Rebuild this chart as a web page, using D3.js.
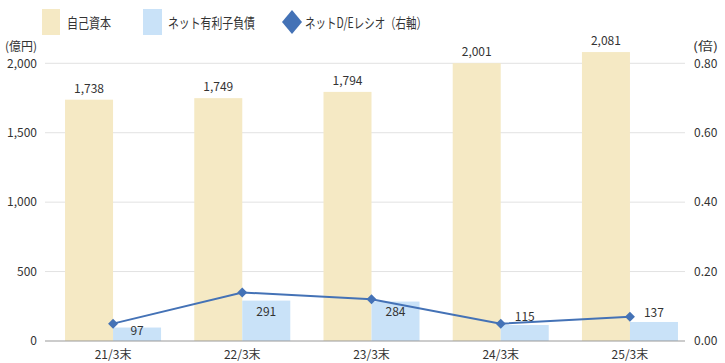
<!DOCTYPE html>
<html>
<head>
<meta charset="utf-8">
<script src="https://cdn.jsdelivr.net/npm/d3@7"></script>
<style>
  body { margin: 0; background: #fff; }
  text { font-family: "Noto Sans CJK JP", "Noto Sans", sans-serif; fill: #333; }
</style>
</head>
<body>
<div id="chart"></div>
<script>
// データ
const categories = ["21/3末", "22/3末", "23/3末", "24/3末", "25/3末"];
const equity = [1738, 1749, 1794, 2001, 2081];
const netDebt = [97, 291, 284, 115, 137];
const deRatio = [0.05, 0.14, 0.12, 0.05, 0.07];
const leftTicks = [0, 500, 1000, 1500, 2000];
const rightTicks = [0, 0.2, 0.4, 0.6, 0.8];

// ネット有利子負債ラベルの位置調整（バー上端からのずれ）
const netLabelDy = [3, 11, 10, -8, -9];

const W = 725, H = 363;
const svg = d3.select("#chart").append("svg")
    .attr("width", W)
    .attr("height", H);

const plotLeft = 45, plotRight = 685;

const x = d3.scaleBand()
    .domain(categories)
    .range([48.5, 694.5])
    .paddingInner(0.257)
    .paddingOuter(0.128);

const yL = d3.scaleLinear().domain([0, 2000]).range([341, 63.3]);
const yR = d3.scaleLinear().domain([0, 0.8]).range([341, 63.3]);

// グリッド線
svg.append("g")
  .selectAll("line")
  .data(leftTicks.slice(1))
  .join("line")
    .attr("x1", plotLeft)
    .attr("x2", plotRight)
    .attr("y1", d => yL(d))
    .attr("y2", d => yL(d))
    .attr("stroke", "#e2e2e2")
    .attr("stroke-width", 1);

// 左軸
const leftAxis = svg.append("g")
    .attr("transform", `translate(${plotLeft},0)`)
    .call(d3.axisLeft(yL).tickValues(leftTicks).tickSize(0).tickPadding(8).tickFormat(d3.format(",")));
leftAxis.select(".domain").remove();
leftAxis.selectAll("text").style("font-size", "12px").attr("fill", "#333");

// 右軸
const rightAxis = svg.append("g")
    .attr("transform", `translate(${plotRight},0)`)
    .call(d3.axisRight(yR).tickValues(rightTicks).tickSize(0).tickPadding(9).tickFormat(d3.format(".2f")));
rightAxis.select(".domain").remove();
rightAxis.selectAll("text").style("font-size", "12px").attr("fill", "#333");

// 単位
svg.append("text").attr("x", 5).attr("y", 51).style("font-size", "12px")
    .attr("textLength", 32).attr("lengthAdjust", "spacingAndGlyphs").text("(億円)");
svg.append("text").attr("x", 693).attr("y", 51).style("font-size", "12px")
    .attr("textLength", 25).attr("lengthAdjust", "spacingAndGlyphs").text("(倍)");

const bw = x.bandwidth() / 2;

// 自己資本
svg.append("g")
  .selectAll("rect")
  .data(equity)
  .join("rect")
    .attr("x", (d, i) => x(categories[i]))
    .attr("y", d => yL(d))
    .attr("width", bw)
    .attr("height", d => yL(0) - yL(d))
    .attr("fill", "#f5e9c4");

// ネット有利子負債
svg.append("g")
  .selectAll("rect")
  .data(netDebt)
  .join("rect")
    .attr("x", (d, i) => x(categories[i]) + bw)
    .attr("y", d => yL(d))
    .attr("width", bw)
    .attr("height", d => yL(0) - yL(d))
    .attr("fill", "#c9e2f8");

// 基線
svg.append("line")
    .attr("x1", plotLeft).attr("x2", plotRight)
    .attr("y1", yL(0)).attr("y2", yL(0))
    .attr("stroke", "#999").attr("stroke-width", 1);

// X軸ラベル
svg.append("g")
  .selectAll("text")
  .data(categories)
  .join("text")
    .attr("x", d => x(d) + bw)
    .attr("y", 359)
    .attr("text-anchor", "middle")
    .style("font-size", "12px")
    .text(d => d);

// 値ラベル
svg.append("g")
  .selectAll("text")
  .data(equity)
  .join("text")
    .attr("x", (d, i) => x(categories[i]) + bw / 2)
    .attr("y", d => yL(d) - 7)
    .attr("text-anchor", "middle")
    .style("font-size", "12px")
    .text(d => d3.format(",")(d));

// D/Eレシオ折れ線
const line = d3.line()
    .x((d, i) => x(categories[i]) + bw)
    .y(d => yR(d));

svg.append("path")
    .datum(deRatio)
    .attr("d", line)
    .attr("fill", "none")
    .attr("stroke", "#4472b6")
    .attr("stroke-width", 2);

svg.append("g")
  .selectAll("path")
  .data(deRatio)
  .join("path")
    .attr("d", d3.symbol(d3.symbolSquare, 50))
    .attr("transform", (d, i) => `translate(${x(categories[i]) + bw},${yR(d)}) rotate(45)`)
    .attr("fill", "#4472b6");

svg.append("g")
  .selectAll("text")
  .data(netDebt)
  .join("text")
    .attr("x", (d, i) => x(categories[i]) + bw * 1.5)
    .attr("y", (d, i) => yL(d) + netLabelDy[i] + 4)
    .attr("text-anchor", "middle")
    .style("font-size", "12px")
    .text(d => d3.format(",")(d));

// 凡例
const legend = svg.append("g");
legend.append("rect").attr("x", 42).attr("y", 9).attr("width", 18).attr("height", 26).attr("fill", "#f5e9c4");
legend.append("text").attr("x", 67).attr("y", 28).style("font-size", "14px")
    .attr("textLength", 44).attr("lengthAdjust", "spacingAndGlyphs").text("自己資本");
legend.append("rect").attr("x", 143).attr("y", 9).attr("width", 19).attr("height", 26).attr("fill", "#c9e2f8");
legend.append("text").attr("x", 168).attr("y", 28).style("font-size", "14px")
    .attr("textLength", 87).attr("lengthAdjust", "spacingAndGlyphs").text("ネット有利子負債");
legend.append("path")
    .attr("d", "M0,-12L10,0L0,12L-10,0Z")
    .attr("transform", "translate(292,22)")
    .attr("fill", "#4472b6");
legend.append("text").attr("x", 305).attr("y", 28).style("font-size", "14px")
    .attr("textLength", 122).attr("lengthAdjust", "spacingAndGlyphs").text("ネットD/Eレシオ（右軸）");
</script>
</body>
</html>
